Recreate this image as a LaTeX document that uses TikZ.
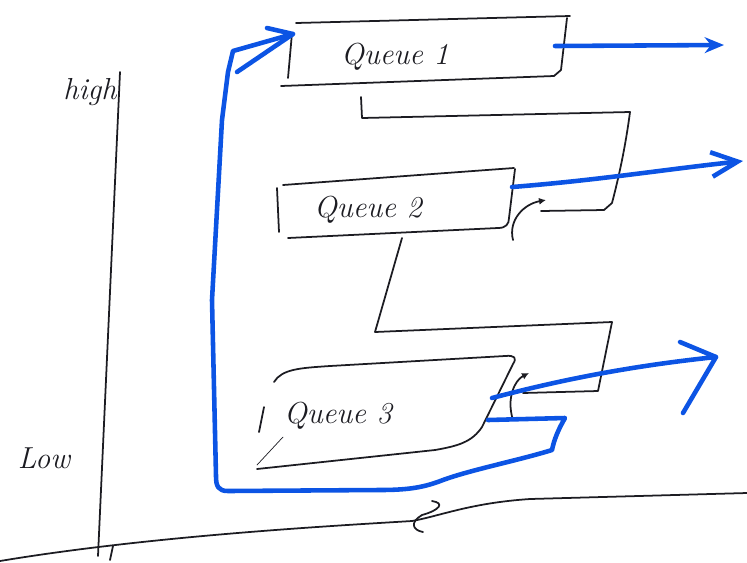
\documentclass[tikz,border=0pt]{standalone}
\usepackage{amsmath}
\usepackage{tikz}
\usetikzlibrary{arrows.meta}

\definecolor{pencil}{RGB}{28,28,34}
\definecolor{inkblue}{RGB}{12,84,228}

\begin{document}
\begin{tikzpicture}[x=0.02cm, y=-0.02cm,
    pen/.style={draw=pencil, line width=1pt, line cap=round, line join=round},
    marker/.style={draw=inkblue, line width=2.6pt, line cap=round, line join=round},
    hand/.style={font=\itshape\LARGE, text=pencil, inner sep=1pt}]
    \useasboundingbox (0,0) rectangle (747,562);

    % axes
    \draw[pen] (120,72) -- (98,556);
    \draw[pen] (113,546) -- (110,560);
    \draw[pen] (0,561) .. controls (150,536) and (330,526) .. (412,521)
        .. controls (440,516) and (470,503) .. (530,499) -- (747,493);
    \draw[pen] (432,501) .. controls (445,503) and (440,510) .. (422,515)
        .. controls (410,522) and (412,530) .. (423,532);
    \node[hand] (hi) at (90,92) {high};
    \node[hand] (lo) at (44,458) {Low};

    % queue 1
    \draw[pen] (296,23) -- (570,16);
    \draw[pen] (292,33) -- (288,78);
    \draw[pen] (281,86) -- (554,76) -- (561,70) -- (567,18);
    \node[hand] (q1) at (395,57) {Queue 1};

    % link from queue 1 down to queue 2
    \draw[pen] (361,97) -- (362,118) -- (630,112)
        .. controls (625,150) and (618,180) .. (612,203) -- (604,210) -- (541,211);
    \draw[pen, -{Latex[length=4pt, width=4pt]}] (513,240)
        .. controls (508,220) and (524,204) .. (546,200);

    % queue 2
    \draw[pen] (283,185) -- (514,168);
    \draw[pen] (277,188) -- (279,232);
    \draw[pen] (288,238) -- (498,228) .. controls (506,228) and (509,224) .. (509,218) -- (515,169);
    \node[hand] (q2) at (368,210) {Queue 2};

    % link from queue 2 down to queue 3
    \draw[pen] (402,238) -- (375,332) -- (612,322) -- (598,391) -- (523,393);
    \draw[pen, -{Latex[length=4pt, width=4pt]}] (513,420)
        .. controls (506,398) and (515,380) .. (529,373);

    % queue 3
    \draw[pen] (274,382) .. controls (282,369) and (300,368) .. (330,366) -- (505,356)
        .. controls (515,355) and (517,358) .. (513,364) -- (482,427)
        .. controls (472,442) and (458,446) .. (435,450) -- (257,469);
    \draw[pen] (264,407) -- (259,432);
    \draw[pen, line width=0.4pt] (257,465) -- (283,437);
    \node[hand] (q3) at (338,416) {Queue 3};

    % outgoing arrows
    \coordinate (q1out) at (555,46);
    \coordinate (q1end) at (724,45);
    \coordinate (q2out) at (512,187);
    \coordinate (q2end) at (743,161);
    \coordinate (q3out) at (492,398);
    \coordinate (q3end) at (716,357);
    \draw[marker, -{Stealth[length=11pt, width=9pt]}] (q1out) -- (q1end);
    \draw[marker, -{Straight Barb[length=15pt, width=14pt]}] (q2out)
        .. controls (600,180) and (660,170) .. (q2end);
    \draw[marker] (q3out) .. controls (560,380) and (630,366) .. (q3end)
        -- ++(-36,-15);
    \draw[marker] (q3end) -- ++(-33,56);

    % feedback from queue 3 back into queue 1
    \coordinate (q3back) at (488,420);
    \coordinate (q1in) at (293,34);
    \draw[marker] (q3back) -- (565,418) .. controls (558,430) and (554,440) .. (552,450)
        .. controls (520,460) and (470,470) .. (443,480)
        .. controls (425,487) and (410,490) .. (380,490) -- (228,491)
        .. controls (218,491) and (216,486) .. (216,476) -- (212,300) -- (222,120)
        -- (228,72) -- (233,51) -- (q1in) -- (267,28);
    \draw[marker] (q1in) -- (237,72);
\end{tikzpicture}
\end{document}
